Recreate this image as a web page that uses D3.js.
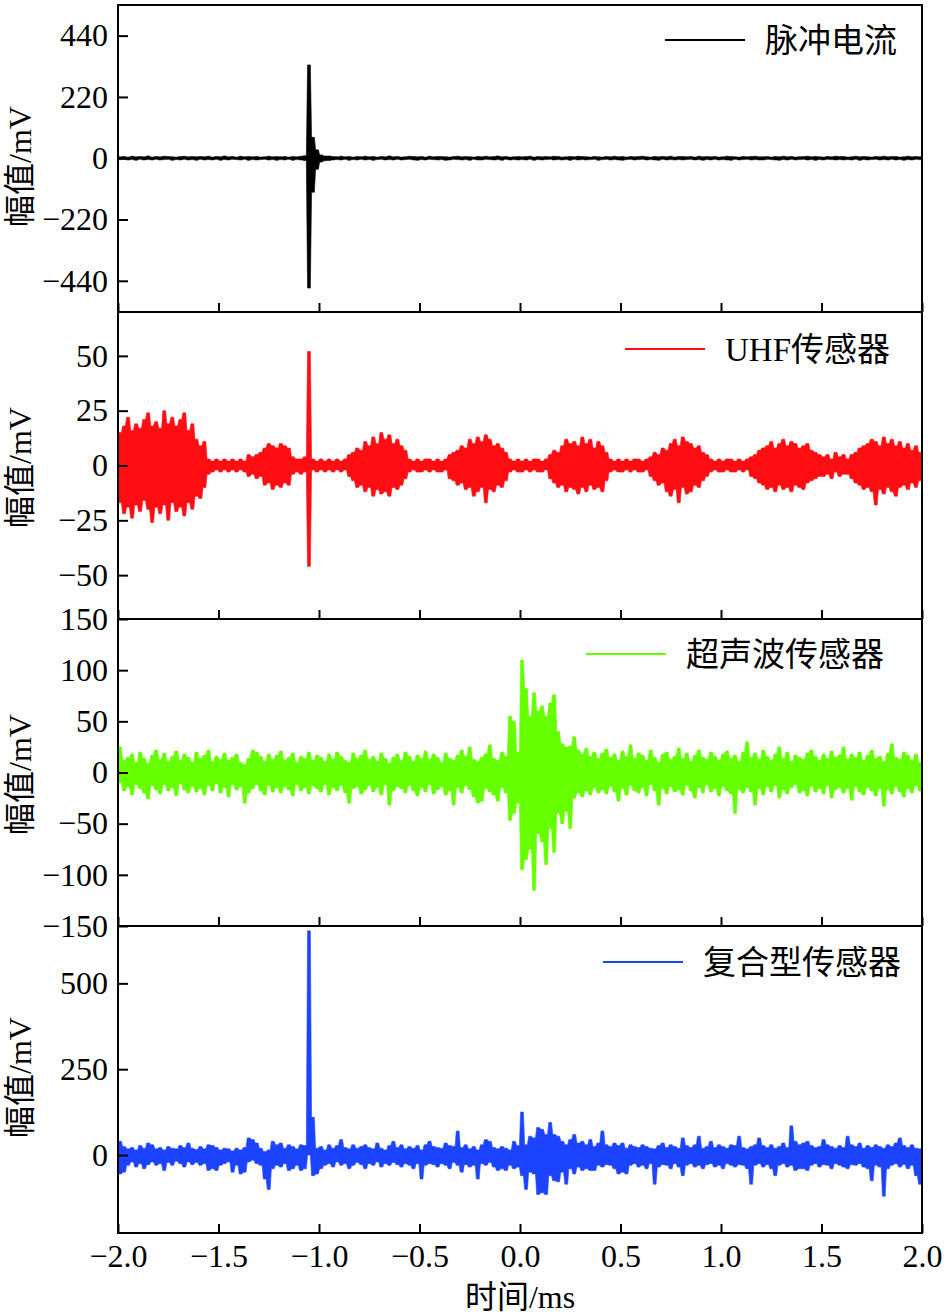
<!DOCTYPE html>
<html>
<head>
<meta charset="utf-8">
<script src="https://cdn.jsdelivr.net/npm/d3@7"></script>
<style>
  body { margin: 0; background: #fff; }
</style>
</head>
<body>
<div id="chart-area"></div>
<script>
// time axis (ms), 200 bins of 0.02 ms from -2 to 2
const xTicks = [-2.0, -1.5, -1.0, -0.5, 0, 0.5, 1.0, 1.5, 2.0];
const binStart = -2.0;
const binStep = 0.02;

// 脉冲电流: max / min per bin (mV)
const pulseHi = [
  5,6,4,7,5,6,5,8,4,6, 5,7,6,5,4,6,7,5,6,5, 6,5,7,4,6,5,8,5,6,4, 7,5,6,5,6,4,5,7,5,6,
  5,6,4,6,5,7,9,335,75,30, 12,8,8,6,5,7,5,6,4,6, 5,7,5,6,4,6,5,8,5,6, 4,5,7,6,5,6,4,7,5,6,
  6,5,4,6,7,5,6,5,4,6, 5,7,5,6,8,5,6,4,5,6, 5,6,7,4,6,5,6,5,7,6, 4,5,6,5,7,6,5,4,6,5,
  4,6,5,7,5,6,4,6,5,6, 7,5,4,6,5,6,5,7,4,6, 6,5,6,4,7,5,6,5,6,4, 5,7,6,5,4,6,5,6,7,5,
  5,6,4,6,5,7,5,6,4,5, 6,7,5,6,5,4,6,5,7,6, 6,4,5,7,5,6,5,4,6,5, 7,5,6,6,4,5,7,5,6,5
];
const pulseLo = [
  -5,-4,-6,-5,-7,-4,-6,-5,-6,-4, -6,-5,-4,-7,-5,-6,-4,-6,-5,-7, -4,-6,-5,-6,-4,-7,-5,-6,-4,-5, -6,-4,-7,-5,-6,-5,-4,-6,-5,-7,
  -5,-6,-4,-7,-5,-6,-8,-466,-122,-40, -14,-9,-8,-6,-5,-6,-4,-7,-5,-6, -4,-6,-5,-7,-5,-4,-6,-5,-6,-4, -6,-5,-4,-6,-7,-5,-6,-4,-5,-6,
  -5,-7,-6,-4,-5,-6,-5,-7,-4,-6, -6,-4,-5,-6,-5,-7,-4,-6,-5,-6, -5,-6,-4,-7,-5,-6,-5,-4,-6,-5, -6,-5,-7,-4,-6,-5,-6,-5,-4,-7,
  -5,-4,-6,-5,-6,-7,-5,-4,-6,-5, -4,-6,-5,-6,-7,-4,-6,-5,-6,-5, -6,-5,-4,-6,-5,-7,-5,-6,-4,-6, -5,-6,-7,-4,-6,-5,-4,-6,-5,-6,
  -6,-4,-5,-6,-7,-5,-6,-4,-6,-5, -4,-6,-5,-7,-5,-6,-4,-5,-6,-5, -6,-5,-6,-4,-7,-5,-6,-5,-4,-6, -5,-6,-4,-6,-5,-7,-5,-6,-4,-5
];

// UHF传感器
const uhfHi = [
  15,18,22,16,19,17,21,24,18,20, 17,25,19,22,18,21,24,16,19,12, 9,11,3,2,3,2,3,2,3,2, 3,2,5,4,5,6,8,10,9,8,
  10,9,8,4,3,3,4,52,3,2, 3,2,3,2,3,2,3,5,6,8, 7,11,9,13,10,15,12,14,10,12, 9,7,3,2,3,2,3,3,2,3,
  2,3,5,6,7,9,8,12,10,13, 11,14,12,9,10,8,6,3,2,3, 2,3,2,3,3,2,3,5,7,6, 9,12,10,11,9,13,10,12,8,11,
  9,6,3,2,3,2,3,2,3,3, 2,3,4,6,5,8,7,10,12,9, 13,11,10,8,9,6,5,3,2,3, 2,3,3,2,3,2,3,4,5,7,
  8,9,11,8,10,12,9,11,10,8, 9,10,7,6,5,4,5,3,6,4, 5,3,5,6,8,9,10,12,11,9, 13,10,12,9,11,8,10,7,9,6
];
const uhfLo = [
  -17,-22,-19,-24,-18,-21,-16,-20,-26,-19, -22,-18,-25,-17,-21,-19,-23,-17,-20,-14, -15,-10,-4,-3,-2,-3,-2,-3,-2,-3, -2,-3,-5,-4,-6,-5,-9,-8,-11,-9,
  -10,-8,-9,-4,-3,-4,-3,-46,-2,-3, -2,-3,-2,-3,-2,-3,-2,-5,-7,-10, -9,-12,-10,-14,-11,-13,-12,-14,-10,-11, -9,-6,-3,-2,-3,-3,-2,-3,-2,-3,
  -3,-2,-6,-7,-9,-8,-11,-10,-14,-12, -10,-17,-11,-12,-9,-10,-7,-3,-2,-3, -3,-2,-3,-2,-3,-3,-2,-6,-8,-10, -9,-12,-10,-11,-13,-10,-12,-9,-11,-10,
  -12,-7,-3,-2,-3,-3,-2,-3,-2,-3, -3,-2,-5,-7,-9,-8,-12,-14,-11,-17, -10,-13,-12,-9,-10,-7,-5,-3,-2,-3, -3,-2,-3,-3,-2,-3,-2,-5,-6,-8,
  -9,-11,-10,-12,-9,-11,-10,-12,-9,-10, -11,-8,-7,-6,-5,-5,-4,-6,-3,-5, -4,-4,-6,-8,-9,-11,-10,-12,-18,-11, -13,-10,-12,-14,-10,-9,-11,-8,-10,-7
];

// 超声波传感器
const ultraHi = [
  25,12,15,18,10,20,14,9,17,22, 13,19,11,16,21,12,18,15,10,20, 14,17,22,11,16,13,19,12,15,18, 10,8,14,22,20,16,11,18,13,17,
  21,12,15,19,10,16,14,20,12,17, 15,11,18,13,20,16,12,10,19,14, 17,22,13,16,11,19,14,9,15,18, 12,20,16,11,17,14,21,13,18,15,
  10,19,14,12,17,22,16,25,13,11, 15,18,27,14,12,20,16,55,50,20, 110,82,55,78,60,65,55,68,76,40, 28,25,26,35,22,18,24,16,20,14,
  19,23,15,18,12,21,16,27,14,19, 17,12,22,15,10,18,20,13,16,24, 14,19,11,17,22,15,13,20,16,12, 18,21,14,17,11,20,30,15,19,13,
  22,16,12,18,25,14,20,11,17,15, 13,19,22,16,12,18,14,21,15,17, 25,13,18,15,20,12,17,22,14,16, 11,19,28,15,13,20,17,12,18,10
];
const ultraLo = [
  -10,-18,-14,-22,-12,-16,-20,-26,-13,-17, -21,-12,-18,-15,-23,-11,-17,-20,-14,-19, -16,-22,-13,-18,-11,-20,-15,-24,-12,-17, -14,-30,-20,-16,-12,-18,-22,-13,-19,-15,
  -20,-14,-17,-23,-12,-18,-15,-21,-13,-16, -19,-12,-22,-15,-18,-13,-20,-30,-16,-14, -21,-17,-13,-19,-15,-22,-12,-32,-18,-14, -16,-20,-13,-18,-23,-15,-19,-12,-21,-17,
  -14,-22,-18,-32,-15,-20,-13,-17,-24,-30, -28,-16,-19,-22,-28,-15,-20,-47,-40,-30, -95,-85,-75,-115,-60,-68,-90,-55,-78,-40, -50,-38,-55,-25,-20,-24,-18,-22,-15,-20,
  -17,-21,-14,-19,-28,-16,-22,-13,-18,-20, -15,-23,-12,-18,-32,-16,-21,-14,-19,-17, -22,-13,-18,-25,-15,-20,-12,-19,-16,-23, -14,-18,-21,-40,-17,-20,-15,-19,-32,-16,
  -22,-14,-19,-13,-25,-17,-21,-15,-12,-20, -18,-23,-14,-19,-16,-21,-13,-25,-17,-15, -20,-16,-27,-14,-19,-22,-15,-18,-23,-16, -33,-17,-21,-14,-19,-24,-16,-20,-13,-18
];

// 复合型传感器
const combHi = [
  40,25,18,22,15,28,20,35,30,18, 22,15,25,20,18,28,22,35,20,16, 25,18,30,28,22,15,20,18,12,20, 15,22,50,45,35,20,10,15,40,30,
  35,20,30,25,18,30,28,653,110,20, 25,15,30,20,28,45,22,18,30,20, 25,30,22,18,35,20,15,28,40,22, 30,18,25,20,28,15,30,40,25,22,
  20,35,28,25,70,22,30,18,25,15, 30,45,40,22,18,25,20,15,40,28, 125,30,55,50,80,75,60,95,60,55, 40,30,45,60,35,40,30,45,25,35,
  70,30,25,35,28,35,20,30,25,22, 30,25,20,18,28,35,22,30,25,20, 50,28,22,30,55,20,25,40,22,30, 25,20,30,28,55,22,18,25,30,50,
  28,22,30,20,25,35,22,85,40,30, 35,40,28,22,25,45,30,25,20,28, 22,55,30,25,35,20,28,22,30,25, 20,30,25,35,50,28,22,30,20,18
];
const combLo = [
  -55,-50,-30,-20,-35,-25,-40,-28,-20,-30, -25,-45,-22,-30,-18,-25,-35,-20,-28,-22, -30,-25,-45,-40,-45,-30,-25,-20,-50,-30, -55,-50,-20,-15,-25,-30,-70,-100,-40,-30,
  -35,-25,-45,-40,-30,-45,-40,0,-60,-55, -40,-30,-25,-35,-20,-30,-25,-40,-30,-22, -28,-40,-25,-30,-20,-35,-25,-30,-22,-28, -35,-25,-30,-40,-25,-70,-30,-25,-28,-35,
  -25,-30,-40,-22,-30,-50,-28,-35,-30,-70, -25,-30,-22,-35,-45,-40,-45,-30,-40,-35, -60,-100,-50,-55,-115,-110,-115,-60,-75,-78, -50,-85,-40,-55,-35,-45,-40,-45,-45,-30,
  -35,-28,-30,-40,-55,-50,-55,-30,-25,-35, -30,-40,-25,-85,-35,-28,-30,-40,-25,-35, -60,-30,-25,-35,-30,-40,-28,-25,-35,-30, -40,-25,-30,-35,-28,-30,-40,-85,-30,-25,
  -35,-28,-40,-60,-30,-25,-35,-30,-45,-40, -40,-45,-30,-25,-35,-28,-30,-40,-25,-30, -35,-40,-28,-30,-25,-35,-40,-75,-30,-35, -120,-40,-30,-25,-35,-28,-40,-30,-60,-85
];

const panelNames = ["脉冲电流", "UHF传感器", "超声波传感器", "复合型传感器"];
const panelColors = ["#000000", "#ff0d12", "#66ff00", "#1c44ff"];
const panelDomains = [[-552, 550], [-70, 70], [-150, 150], [-227, 667]];
const panelTicks = [
  [-440, -220, 0, 220, 440],
  [-50, -25, 0, 25, 50],
  [-150, -100, -50, 0, 50, 100, 150],
  [0, 250, 500]
];
const panelHi = [pulseHi, uhfHi, ultraHi, combHi];
const panelLo = [pulseLo, uhfLo, ultraLo, combLo];

// layout
const chart = { width: 944, height: 1315, left: 118, right: 922, top: 5, panelH: 307 };
const legendX = [765, 725, 686, 703];   // start of legend text
const legendDy = [35, 37, 35, 36];
const labelShift = [8, 2, 2, -2];
const colHalf = 1.4;   // half width (px) of the flat top of each bin column

const numFont = "'Liberation Serif', 'Times New Roman', serif";
const cjkFont = "'Liberation Serif', 'Noto Sans CJK SC', sans-serif";

const svg = d3.select("#chart-area").append("svg")
    .attr("width", chart.width).attr("height", chart.height);

const x = d3.scaleLinear().domain([-2, 2]).range([chart.left, chart.right]);

panelNames.forEach(function(name, k) {
    const top = chart.top + k * chart.panelH;
    const bottom = top + chart.panelH;
    const y = d3.scaleLinear().domain(panelDomains[k]).range([bottom, top]);
    const group = svg.append("g");

    group.append("clipPath").attr("id", "clip" + k)
        .append("rect")
        .attr("x", chart.left).attr("y", top)
        .attr("width", chart.right - chart.left).attr("height", chart.panelH);

    // each bin is a narrow column from its min to its max
    const cols = [];
    panelHi[k].forEach(function(h, i) {
        const px = x(binStart + (i + 0.5) * binStep);
        cols.push({ px: px - colHalf, hi: h, lo: panelLo[k][i] });
        cols.push({ px: px + colHalf, hi: h, lo: panelLo[k][i] });
    });
    const area = d3.area().x(d => d.px).y0(d => y(d.lo)).y1(d => y(d.hi));
    group.append("path")
        .attr("d", area(cols))
        .attr("fill", panelColors[k])
        .attr("stroke", panelColors[k])
        .attr("stroke-width", 0.6)
        .attr("clip-path", "url(#clip" + k + ")");

    // y axis, ticks inside
    const yAxis = group.append("g")
        .attr("transform", "translate(" + chart.left + ",0)")
        .call(d3.axisLeft(y).tickValues(panelTicks[k]).tickSize(-10).tickPadding(10).tickFormat(d3.format("d")));
    yAxis.select(".domain").remove();
    yAxis.selectAll("line").attr("stroke-width", 2);
    yAxis.selectAll("text").attr("font-family", numFont).attr("font-size", 32).attr("fill", "#000");

    // x ticks on bottom edge of every panel, labels on the last one
    const xAxis = group.append("g")
        .attr("transform", "translate(0," + bottom + ")")
        .call(d3.axisBottom(x).tickValues(xTicks).tickSize(-9).tickPadding(11)
            .tickFormat(k === 3 ? d3.format(".1f") : ""));
    xAxis.select(".domain").remove();
    xAxis.selectAll("line").attr("stroke-width", 2);
    xAxis.selectAll("text").attr("font-family", numFont).attr("font-size", 32).attr("fill", "#000");

    // frame
    group.append("rect")
        .attr("x", chart.left).attr("y", top)
        .attr("width", chart.right - chart.left).attr("height", chart.panelH)
        .attr("fill", "none").attr("stroke", "#000").attr("stroke-width", 2);

    // y label
    group.append("text")
        .attr("transform", "translate(31," + (top + chart.panelH / 2 + labelShift[k]) + ") rotate(-90)")
        .attr("text-anchor", "middle")
        .attr("font-family", cjkFont).attr("font-size", 32)
        .text("幅值/mV");

    // legend
    const ly = top + legendDy[k];
    group.append("line")
        .attr("x1", legendX[k] - 100).attr("x2", legendX[k] - 20)
        .attr("y1", ly).attr("y2", ly)
        .attr("stroke", panelColors[k]).attr("stroke-width", 2);
    group.append("text")
        .attr("x", legendX[k]).attr("y", ly)
        .attr("dy", "0.35em")
        .attr("font-family", cjkFont).attr("font-size", 33)
        .text(name);
});

// x label
svg.append("text")
    .attr("x", x(0)).attr("y", 1308)
    .attr("text-anchor", "middle")
    .attr("font-family", cjkFont).attr("font-size", 32)
    .text("时间/ms");
</script>
</body>
</html>
